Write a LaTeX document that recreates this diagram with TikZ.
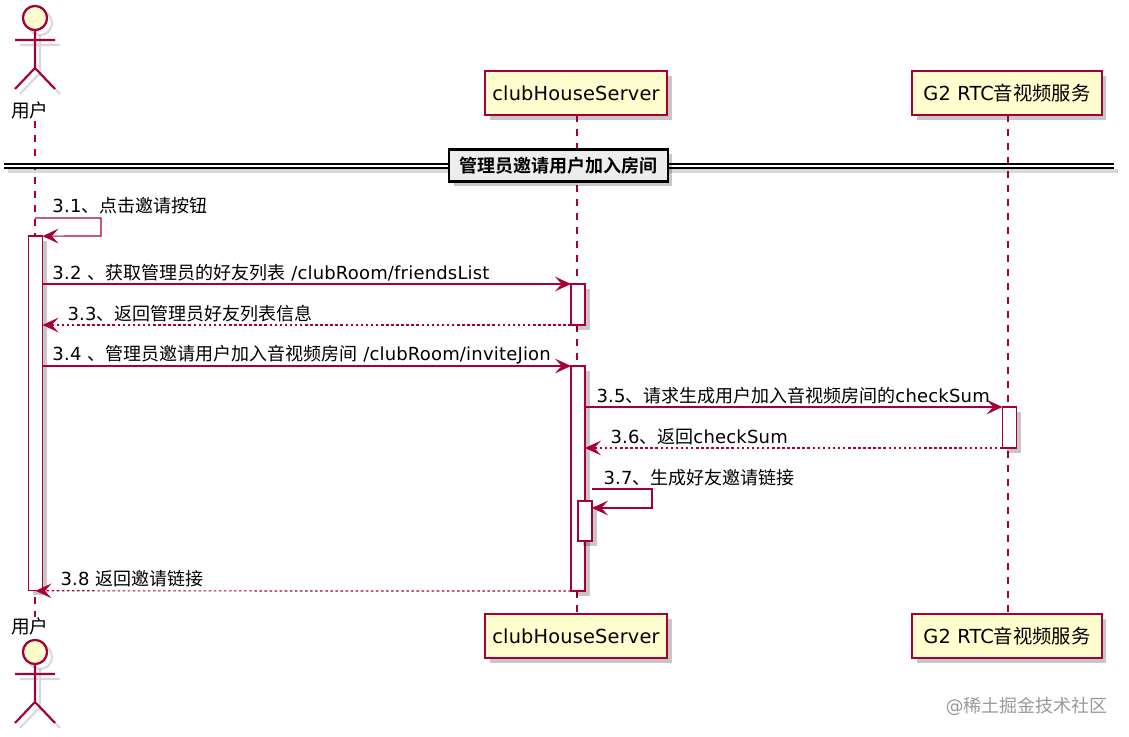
\documentclass[tikz,border=0pt]{standalone}
\usepackage{fontspec}
\setmainfont[LetterSpace=1]{DejaVu Sans}
\newfontfamily\cjk[BoldFont={Noto Sans CJK SC Bold}]{Noto Sans CJK SC}
\newcommand{\zh}[1]{{\cjk #1}}
\usetikzlibrary{arrows.meta,shadows}
\definecolor{umlline}{RGB}{168,0,54}
\definecolor{umlfill}{RGB}{254,254,206}
\tikzset{every picture/.style={line width=0.75pt},
  softshadow/.style={general shadow={fill=black,opacity=0.22,shadow xshift=3.4pt,shadow yshift=-3.4pt}},
  partbox/.style={draw=umlline,fill=umlfill,line width=1.5pt,softshadow,minimum height=33pt,inner sep=0pt,outer sep=0pt,font=\fontsize{14.5}{17}\selectfont},
  barbox/.style={draw=umlline,fill=white,line width=1pt,softshadow,minimum width=10.5pt,inner sep=0pt,outer sep=0pt},
  lifeline/.style={draw=umlline,line width=0.8pt,dash pattern=on 5.25pt off 5.25pt},
  msg/.style={draw=umlline,line width=0.9pt,-{Stealth[length=12pt,width=11pt,inset=5pt]}},
  msgback/.style={msg,dash pattern=on 1.9pt off 1.9pt},
  msglabel/.style={anchor=west,inner sep=0pt,font=\fontsize{13.5}{16}\selectfont},
  actorlabel/.style={inner sep=0pt,font=\fontsize{14}{16}\selectfont},
  stickman/.pic={
    \foreach \dx/\col/\opa in {5/black/0.15,0/umlline/1}{
      \draw [draw=\col,draw opacity=\opa,line width=1.6pt] (\dx,\dx) circle (12) ;
      \draw [draw=\col,draw opacity=\opa,line width=1.6pt] (\dx,12+\dx) -- (\dx,50+\dx) (-20+\dx,22+\dx) -- (20+\dx,22+\dx) (-20+\dx,71+\dx) -- (\dx,50+\dx) -- (20+\dx,71+\dx) ;
    }
    \draw [draw=umlline,fill=umlfill,line width=1.6pt] (0,0) circle (12) ;
  }}
\begin{document}
\begin{tikzpicture}[x=0.75pt,y=0.75pt,yscale=-1,xscale=1]
\useasboundingbox (0,0) rectangle (1129,737);

% Text Node
\node (userTop) [actorlabel] at (30,110) {\zh{用户}};
\node (userBot) [actorlabel] at (30,626) {\zh{用户}};
\node (serverTop) [partbox,minimum width=136.5pt] at (576,93.5) {clubHouseServer};
\node (serverBot) [partbox,minimum width=136.5pt] at (576,636) {clubHouseServer};
\node (rtcTop) [partbox,minimum width=142pt] at (1007,93.5) {G2 RTC\zh{音视频服务}};
\node (rtcBot) [partbox,minimum width=142pt] at (1007,636) {G2 RTC\zh{音视频服务}};

%Shape: Actor
\path (35,18) pic [yscale=-1] {stickman};
\path (35,652) pic [yscale=-1] {stickman};

%Straight Lines
\coordinate (userA) at (35,121);
\coordinate (userB) at (35,617);
\draw [lifeline] (userA) -- (userB) ;
\draw [lifeline] (serverTop.south -| 577,0) -- (serverBot.north -| 577,0) ;
\draw [lifeline] (rtcTop.south -| 1008,0) -- (rtcBot.north -| 1008,0) ;

%Divider
\coordinate (divL) at (4,166);
\coordinate (divR) at (1114,166);
\draw [black,opacity=0.15,line width=3pt] (8,171) -- (1118,171) ;
\draw [black,double=white,line width=1.1pt,double distance=1.9pt] (divL) -- (divR) ;
\node (divBox) [draw=black,fill=black!7,line width=1.8pt,softshadow,minimum width=164pt,minimum height=24pt,inner sep=0pt,font=\fontsize{13.5}{16}\selectfont\bfseries] at (558.5,165.5) {\zh{管理员邀请用户加入房间}};

%Flowchart: Process
\node (userBar) [barbox,minimum height=266pt] at (35.5,413.5) {};
\node (serverBarA) [barbox,minimum height=30.75pt] at (578,304.5) {};
\node (serverBarB) [barbox,minimum height=168.75pt] at (578,478.5) {};
\node (serverBarC) [barbox,minimum height=30pt] at (585,521) {};
\node (rtcBar) [barbox,minimum height=30.75pt] at (1009.5,427.5) {};

%Straight Lines
\coordinate (selfA) at (35,218);
\coordinate (selfB) at (101,218);
\coordinate (selfC) at (101,236);
\draw [msg] (selfA) -- (selfB) -- (selfC) -- (userBar.north east) ;
\draw [msg] (userBar.east |- serverBarA.north) -- (serverBarA.north west) ;
\draw [msgback] (serverBarA.south west) -- (userBar.east |- serverBarA.south) ;
\draw [msg] (userBar.east |- serverBarB.north) -- (serverBarB.north west) ;
\draw [msg] (serverBarB.east |- rtcBar.north) -- (rtcBar.north west) ;
\draw [msgback] (rtcBar.south west) -- (serverBarB.east |- rtcBar.south) ;
\coordinate (selfD) at (592,489);
\coordinate (selfE) at (652,489);
\coordinate (selfF) at (652,508);
\coordinate (selfG) at (592,508);
\draw [msg] (selfD) -- (selfE) -- (selfF) -- (selfG) ;
\draw [msgback] (serverBarB.south west) -- (userBar.south) ;

% Text Node
\node (msgA) [msglabel] at (52,205.5) {3.1\zh{、点击邀请按钮}};
\node (msgB) [msglabel] at (52,272.5) {3.2 \zh{、获取管理员的好友列表} /clubRoom/friendsList};
\node (msgC) [msglabel] at (67,313.5) {3.3\zh{、返回管理员好友列表信息}};
\node (msgD) [msglabel] at (52,354.5) {3.4 \zh{、管理员邀请用户加入音视频房间} /clubRoom/inviteJion};
\node (msgE) [msglabel] at (596,395.5) {3.5\zh{、请求生成用户加入音视频房间的}checkSum};
\node (msgF) [msglabel] at (610,436.5) {3.6\zh{、返回}checkSum};
\node (msgG) [msglabel] at (603,477.5) {3.7\zh{、生成好友邀请链接}};
\node (msgH) [msglabel] at (60,578.5) {3.8 \zh{返回邀请链接}};
\node (markText) [anchor=east,inner sep=0pt,text=black!40,font=\fontsize{13.5}{16}\selectfont] at (1108,706) {@\zh{稀土掘金技术社区}};

\end{tikzpicture}
\end{document}
